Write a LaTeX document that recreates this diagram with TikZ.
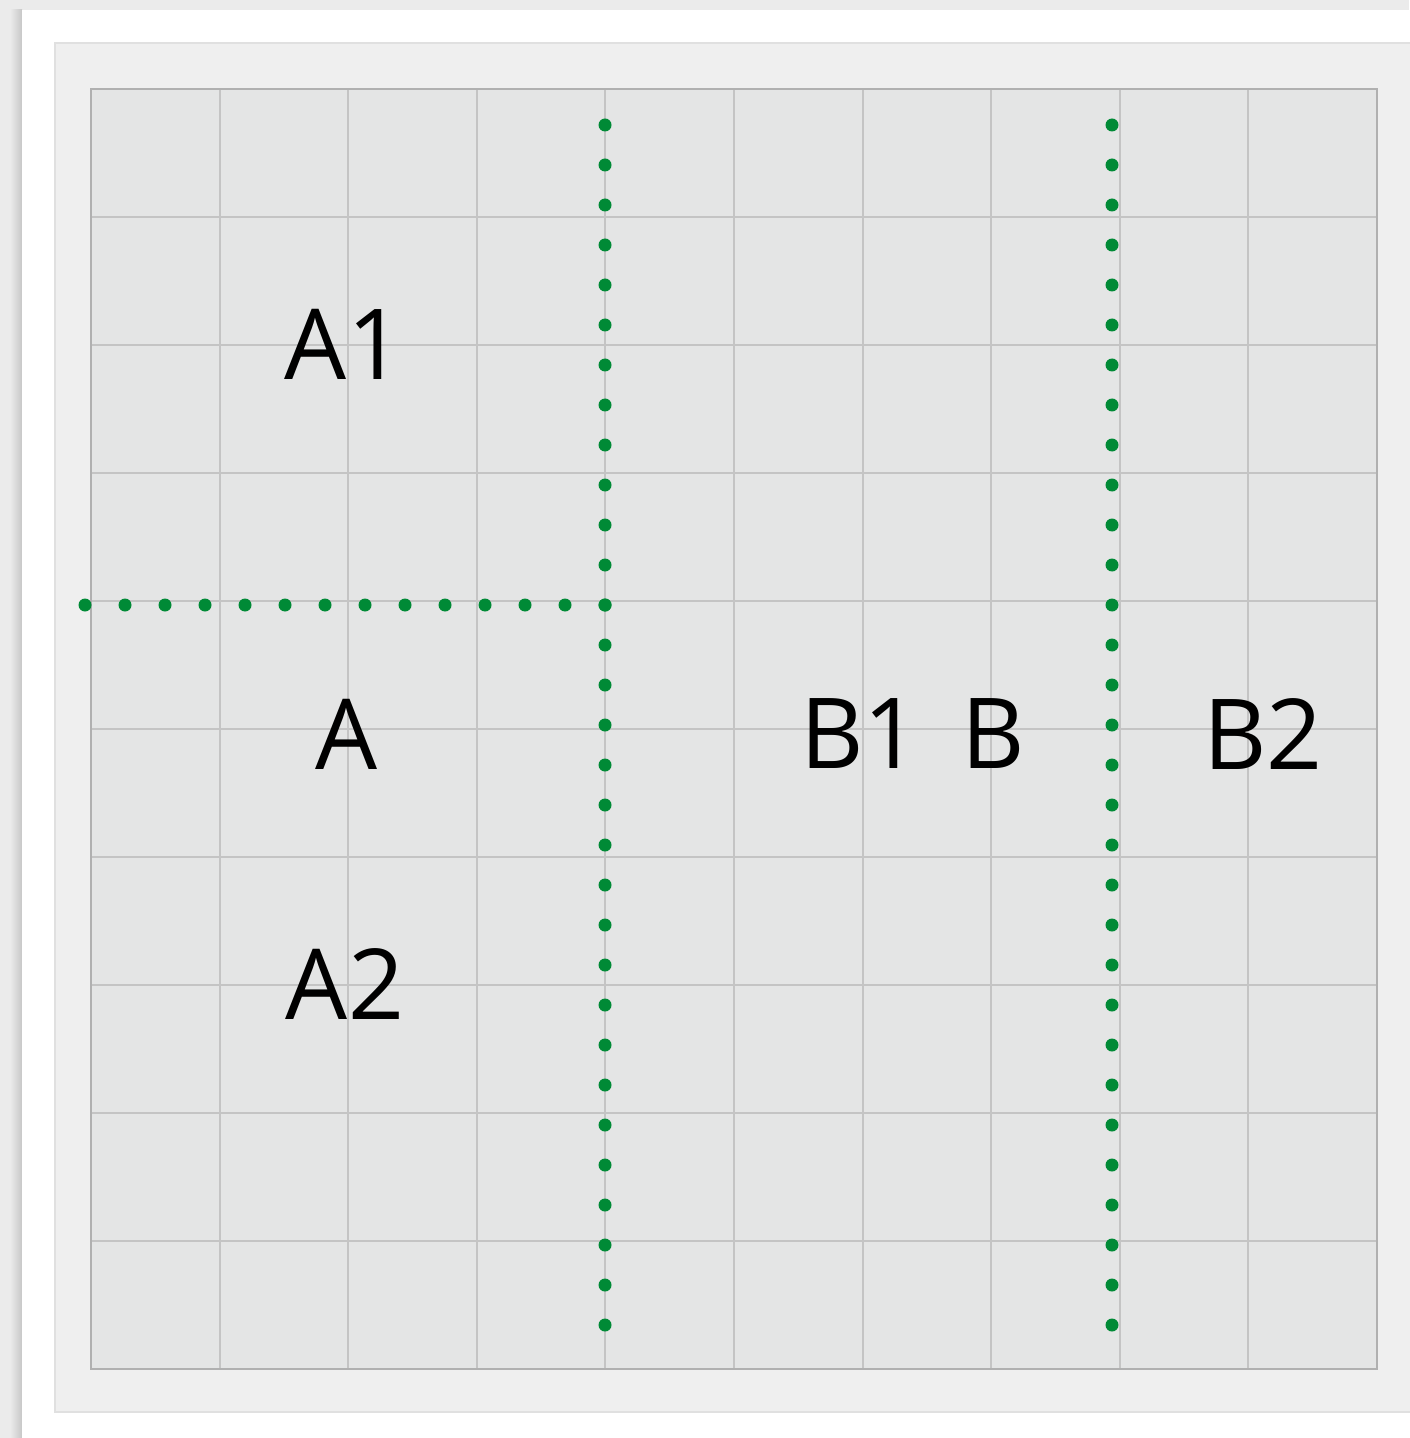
\documentclass[tikz,border=0pt]{standalone}
\usepackage{fontspec}
\setmainfont{Open Sans}
\usepackage{tikz}
\usetikzlibrary{positioning}

\definecolor{paper}{HTML}{EBEBEB}
\definecolor{panel}{HTML}{EFEFEF}
\definecolor{gridfill}{HTML}{E4E5E5}
\definecolor{gridline}{HTML}{C4C4C4}
\definecolor{dotgreen}{HTML}{008A36}

\begin{document}
\begin{tikzpicture}[
    x=0.5pt, y=-0.5pt,
    lbl/.style={font=\fontsize{49}{58}\selectfont, text=black, inner sep=0pt},
    divider/.style={dotgreen, line width=6.5pt, line cap=round, dash pattern=on 0pt off 20pt},
    gridrule/.style={gridline, line width=1pt},
]

% paper, card and panel
\fill[paper] (0,0) rectangle (1409,1438);
\useasboundingbox (0,0) rectangle (1409,1438);
\shade[left color=paper, right color=black!22] (10,10) rectangle (22,1438);
\fill[white] (22,10) rectangle (1420,1450);
\filldraw[fill=panel, draw=black!12, line width=0.8pt] (55,43) rectangle (1420,1412);

% grid
\fill[gridfill] (91,89) rectangle (1377,1369);
\foreach \i in {0,...,10} {
    \draw[gridrule] ({91+128.6*\i},89) -- ({91+128.6*\i},1369);
    \draw[gridrule] (91,{89+128*\i}) -- (1377,{89+128*\i});
}
\draw[gridline!90!black, line width=1.4pt] (91,89) rectangle (1377,1369);

% dotted dividers
\coordinate (atop) at (605,125);
\coordinate (abot) at (605,1326);
\coordinate (amid) at (605,605);
\coordinate (aleft) at (84,605);
\coordinate (btop) at (1112,125);
\coordinate (bbot) at (1112,1326);

\draw[divider] (atop) -- (abot);
\draw[divider] (amid) -- (aleft);
\draw[divider] (btop) -- (bbot);

% labels
\node[lbl] (a1) at (344,344) {A1};
\node[lbl] (a) at (347,734) {A};
\node[lbl] (a2) at (345,984) {A2};
\node[lbl] (b1) at (860,734) {B1};
\node[lbl] (b) at (993,734) {B};
\node[lbl] (b2) at (1263,734) {B2};

\end{tikzpicture}
\end{document}
